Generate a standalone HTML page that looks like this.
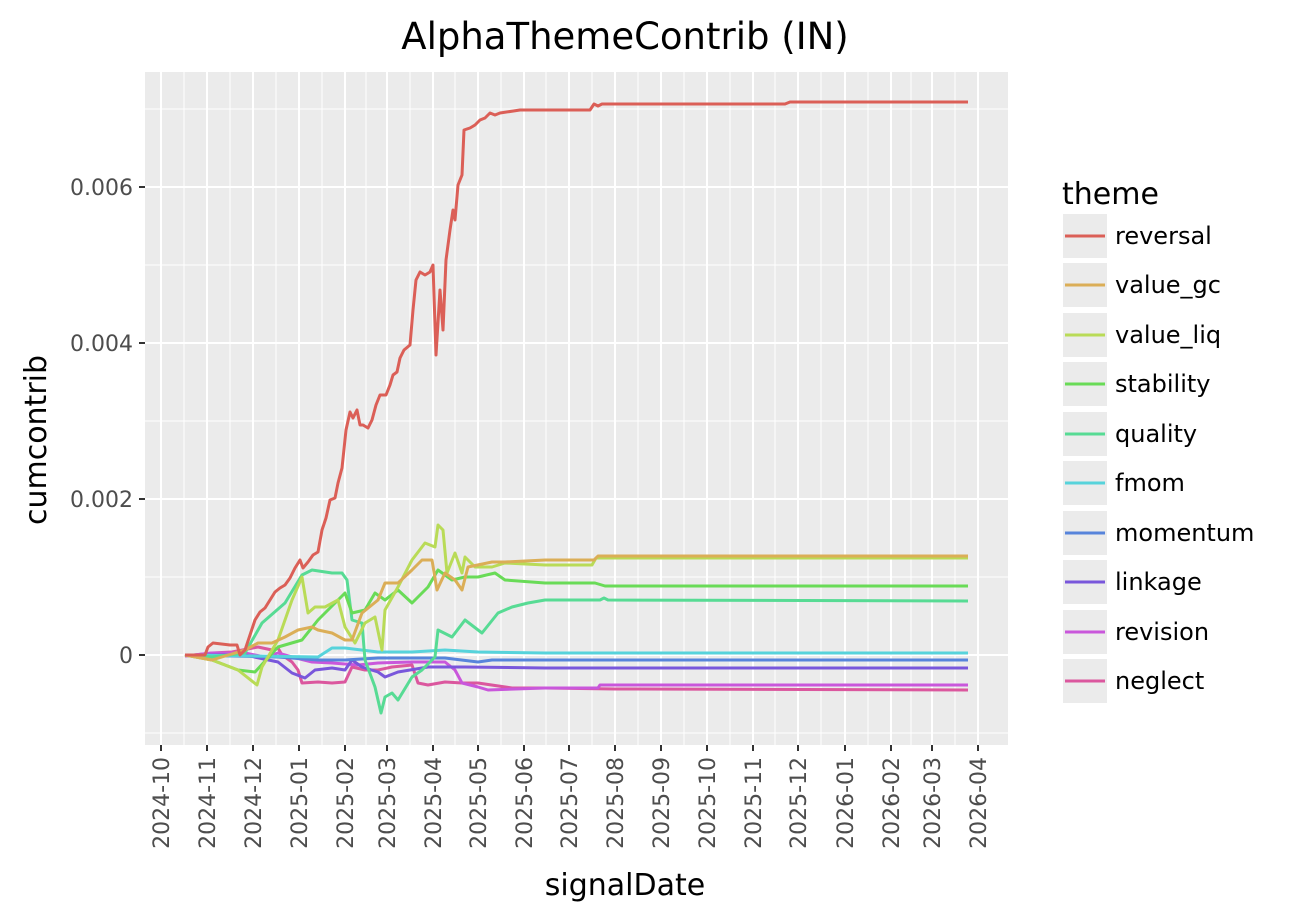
<!DOCTYPE html>
<html><head><meta charset="utf-8"><style>
html,body{margin:0;padding:0;background:#fff;}
svg{display:block;font-family:"DejaVu Sans","Liberation Sans",sans-serif;}
</style></head><body>
<svg width="1311" height="922" viewBox="0 0 1311 922" xmlns="http://www.w3.org/2000/svg">
<rect width="1311" height="922" fill="#fff"/>
<rect x="145" y="72" width="863" height="673" fill="#ebebeb"/>
<g stroke="#fff" stroke-width="1">
<line x1="145" x2="1008" y1="733" y2="733"/><line x1="145" x2="1008" y1="577" y2="577"/><line x1="145" x2="1008" y1="421" y2="421"/><line x1="145" x2="1008" y1="265" y2="265"/><line x1="145" x2="1008" y1="109" y2="109"/>
<line y1="72" y2="745" x1="184" x2="184"/><line y1="72" y2="745" x1="230" x2="230"/><line y1="72" y2="745" x1="276" x2="276"/><line y1="72" y2="745" x1="322" x2="322"/><line y1="72" y2="745" x1="366" x2="366"/><line y1="72" y2="745" x1="410" x2="410"/><line y1="72" y2="745" x1="455" x2="455"/><line y1="72" y2="745" x1="501" x2="501"/><line y1="72" y2="745" x1="546" x2="546"/><line y1="72" y2="745" x1="592" x2="592"/><line y1="72" y2="745" x1="638" x2="638"/><line y1="72" y2="745" x1="684" x2="684"/><line y1="72" y2="745" x1="730" x2="730"/><line y1="72" y2="745" x1="775" x2="775"/><line y1="72" y2="745" x1="821" x2="821"/><line y1="72" y2="745" x1="868" x2="868"/><line y1="72" y2="745" x1="911" x2="911"/><line y1="72" y2="745" x1="955" x2="955"/>
</g>
<g stroke="#fff" stroke-width="2">
<line x1="145" x2="1008" y1="655" y2="655"/><line x1="145" x2="1008" y1="499" y2="499"/><line x1="145" x2="1008" y1="343" y2="343"/><line x1="145" x2="1008" y1="187" y2="187"/>
<line y1="72" y2="745" x1="161" x2="161"/><line y1="72" y2="745" x1="207" x2="207"/><line y1="72" y2="745" x1="253" x2="253"/><line y1="72" y2="745" x1="299" x2="299"/><line y1="72" y2="745" x1="345" x2="345"/><line y1="72" y2="745" x1="387" x2="387"/><line y1="72" y2="745" x1="433" x2="433"/><line y1="72" y2="745" x1="478" x2="478"/><line y1="72" y2="745" x1="524" x2="524"/><line y1="72" y2="745" x1="569" x2="569"/><line y1="72" y2="745" x1="615" x2="615"/><line y1="72" y2="745" x1="661" x2="661"/><line y1="72" y2="745" x1="707" x2="707"/><line y1="72" y2="745" x1="753" x2="753"/><line y1="72" y2="745" x1="798" x2="798"/><line y1="72" y2="745" x1="845" x2="845"/><line y1="72" y2="745" x1="891" x2="891"/><line y1="72" y2="745" x1="932" x2="932"/><line y1="72" y2="745" x1="978" x2="978"/>
</g>
<g fill="none" stroke-width="3" stroke-linejoin="round">
<polyline stroke="#db579e" points="185,656 212,653 232,652 258,647 272,650 278,648 282,655 292,662 298,670 302,683 318,682 332,683 345,682 352,667 365,670 378,670 392,667 412,665 418,683 428,685 445,682 462,683 478,683 512,688 545,688 615,689 968,690"/>
<polyline stroke="#c957db" points="185,656 212,653 245,653 265,657 278,653 292,657 312,662 332,663 358,665 378,663 412,662 445,662 455,670 462,683 478,687 488,690 545,688 598,688 600,685 968,685"/>
<polyline stroke="#7957db" points="185,655 245,655 278,662 292,673 305,678 315,670 332,668 345,670 352,660 362,667 378,672 385,677 398,672 428,667 465,667 545,668 968,668"/>
<polyline stroke="#5784db" points="185,655 278,657 318,660 345,660 378,658 445,658 478,662 492,660 545,660 968,660"/>
<polyline stroke="#57d3db" points="185,655 318,657 332,648 345,648 378,652 412,652 445,650 478,652 545,653 968,653"/>
<polyline stroke="#57db94" points="185,655 212,657 245,653 262,623 285,603 302,575 312,570 332,573 342,573 347,580 352,620 362,623 365,660 375,687 381,713 385,697 392,693 398,700 412,677 422,670 435,657 438,630 452,637 465,620 482,633 498,613 512,607 528,603 545,600 600,600 604,598 608,600 968,601"/>
<polyline stroke="#69db57" points="185,655 212,660 238,670 255,672 278,647 302,640 318,620 345,593 352,613 365,610 375,593 385,600 398,590 412,603 428,587 438,570 452,580 465,577 478,577 495,573 505,580 545,583 595,583 605,586 968,586"/>
<polyline stroke="#b9db57" points="185,655 212,660 238,670 257,685 262,667 278,640 292,600 302,577 308,613 315,607 325,607 338,600 345,627 355,643 365,623 375,617 382,650 385,610 398,587 412,560 425,543 435,547 438,525 443,530 447,573 455,553 462,573 465,557 475,567 492,567 505,563 545,565 592,565 596,558 968,558"/>
<polyline stroke="#dbae57" points="185,655 212,660 245,650 258,643 272,643 285,637 298,630 312,627 318,630 332,633 345,640 352,640 362,613 378,600 385,583 398,583 412,570 422,560 432,560 437,590 445,573 455,580 462,590 468,567 492,562 505,562 545,560 594,560 598,556 968,556"/>
<polyline stroke="#db5f57" points="185,655 205,655 208,647 213,643 230,645 237,645 240,655 245,650 250,635 255,620 260,612 265,608 270,600 275,592 280,588 285,585 290,578 295,568 300,560 303,568 308,562 313,555 318,552 322,530 326,518 330,500 335,498 338,483 342,468 346,430 350,412 353,418 357,410 360,425 363,425 368,428 372,420 376,405 380,395 386,395 390,385 393,375 397,372 400,358 404,350 410,345 413,310 416,280 420,272 425,275 430,272 433,265 436,355 440,290 443,330 446,260 450,230 453,210 455,220 458,185 462,175 464,130 470,128 475,125 480,120 485,118 490,113 495,115 500,113 520,110 590,110 594,104 598,106 602,104 785,104 790,102 968,102"/>
</g>
<g stroke="#333" stroke-width="2">
<line x1="139" x2="145" y1="655" y2="655"/><line x1="139" x2="145" y1="499" y2="499"/><line x1="139" x2="145" y1="343" y2="343"/><line x1="139" x2="145" y1="187" y2="187"/>
<line y1="745" y2="751" x1="161" x2="161"/><line y1="745" y2="751" x1="207" x2="207"/><line y1="745" y2="751" x1="253" x2="253"/><line y1="745" y2="751" x1="299" x2="299"/><line y1="745" y2="751" x1="345" x2="345"/><line y1="745" y2="751" x1="387" x2="387"/><line y1="745" y2="751" x1="433" x2="433"/><line y1="745" y2="751" x1="478" x2="478"/><line y1="745" y2="751" x1="524" x2="524"/><line y1="745" y2="751" x1="569" x2="569"/><line y1="745" y2="751" x1="615" x2="615"/><line y1="745" y2="751" x1="661" x2="661"/><line y1="745" y2="751" x1="707" x2="707"/><line y1="745" y2="751" x1="753" x2="753"/><line y1="745" y2="751" x1="798" x2="798"/><line y1="745" y2="751" x1="845" x2="845"/><line y1="745" y2="751" x1="891" x2="891"/><line y1="745" y2="751" x1="932" x2="932"/><line y1="745" y2="751" x1="978" x2="978"/>
</g>
<g fill="#4d4d4d" font-size="22" text-anchor="end">
<text x="133" y="663">0</text><text x="133" y="507">0.002</text><text x="133" y="351">0.004</text><text x="133" y="195">0.006</text>
</g>
<g fill="#4d4d4d" font-size="22" text-anchor="end">
<text transform="translate(169,757) rotate(-90)">2024-10</text><text transform="translate(215,757) rotate(-90)">2024-11</text><text transform="translate(261,757) rotate(-90)">2024-12</text><text transform="translate(307,757) rotate(-90)">2025-01</text><text transform="translate(353,757) rotate(-90)">2025-02</text><text transform="translate(395,757) rotate(-90)">2025-03</text><text transform="translate(441,757) rotate(-90)">2025-04</text><text transform="translate(486,757) rotate(-90)">2025-05</text><text transform="translate(532,757) rotate(-90)">2025-06</text><text transform="translate(577,757) rotate(-90)">2025-07</text><text transform="translate(623,757) rotate(-90)">2025-08</text><text transform="translate(669,757) rotate(-90)">2025-09</text><text transform="translate(715,757) rotate(-90)">2025-10</text><text transform="translate(761,757) rotate(-90)">2025-11</text><text transform="translate(806,757) rotate(-90)">2025-12</text><text transform="translate(853,757) rotate(-90)">2026-01</text><text transform="translate(899,757) rotate(-90)">2026-02</text><text transform="translate(940,757) rotate(-90)">2026-03</text><text transform="translate(986,757) rotate(-90)">2026-04</text>
</g>
<text x="625" y="49" font-size="37" text-anchor="middle" fill="#000">AlphaThemeContrib (IN)</text>
<text x="625" y="895" font-size="30" text-anchor="middle" fill="#000">signalDate</text>
<text transform="translate(46,440) rotate(-90)" font-size="30" text-anchor="middle" fill="#000">cumcontrib</text>
<text x="1062" y="204" font-size="30" fill="#000">theme</text>
<g font-size="24" fill="#000">
<rect x="1063" y="214" width="44" height="44" fill="#ebebeb"/><line x1="1065" x2="1105" y1="236" y2="236" stroke="#db5f57" stroke-width="3"/><text x="1115" y="244">reversal</text>
<rect x="1063" y="263" width="44" height="44" fill="#ebebeb"/><line x1="1065" x2="1105" y1="285" y2="285" stroke="#dbae57" stroke-width="3"/><text x="1115" y="293">value_gc</text>
<rect x="1063" y="313" width="44" height="44" fill="#ebebeb"/><line x1="1065" x2="1105" y1="335" y2="335" stroke="#b9db57" stroke-width="3"/><text x="1115" y="343">value_liq</text>
<rect x="1063" y="362" width="44" height="44" fill="#ebebeb"/><line x1="1065" x2="1105" y1="384" y2="384" stroke="#69db57" stroke-width="3"/><text x="1115" y="392">stability</text>
<rect x="1063" y="412" width="44" height="44" fill="#ebebeb"/><line x1="1065" x2="1105" y1="434" y2="434" stroke="#57db94" stroke-width="3"/><text x="1115" y="442">quality</text>
<rect x="1063" y="461" width="44" height="44" fill="#ebebeb"/><line x1="1065" x2="1105" y1="483" y2="483" stroke="#57d3db" stroke-width="3"/><text x="1115" y="491">fmom</text>
<rect x="1063" y="511" width="44" height="44" fill="#ebebeb"/><line x1="1065" x2="1105" y1="533" y2="533" stroke="#5784db" stroke-width="3"/><text x="1115" y="541">momentum</text>
<rect x="1063" y="560" width="44" height="44" fill="#ebebeb"/><line x1="1065" x2="1105" y1="582" y2="582" stroke="#7957db" stroke-width="3"/><text x="1115" y="590">linkage</text>
<rect x="1063" y="610" width="44" height="44" fill="#ebebeb"/><line x1="1065" x2="1105" y1="632" y2="632" stroke="#c957db" stroke-width="3"/><text x="1115" y="640">revision</text>
<rect x="1063" y="659" width="44" height="44" fill="#ebebeb"/><line x1="1065" x2="1105" y1="681" y2="681" stroke="#db579e" stroke-width="3"/><text x="1115" y="689">neglect</text>
</g>
</svg>
</body></html>
